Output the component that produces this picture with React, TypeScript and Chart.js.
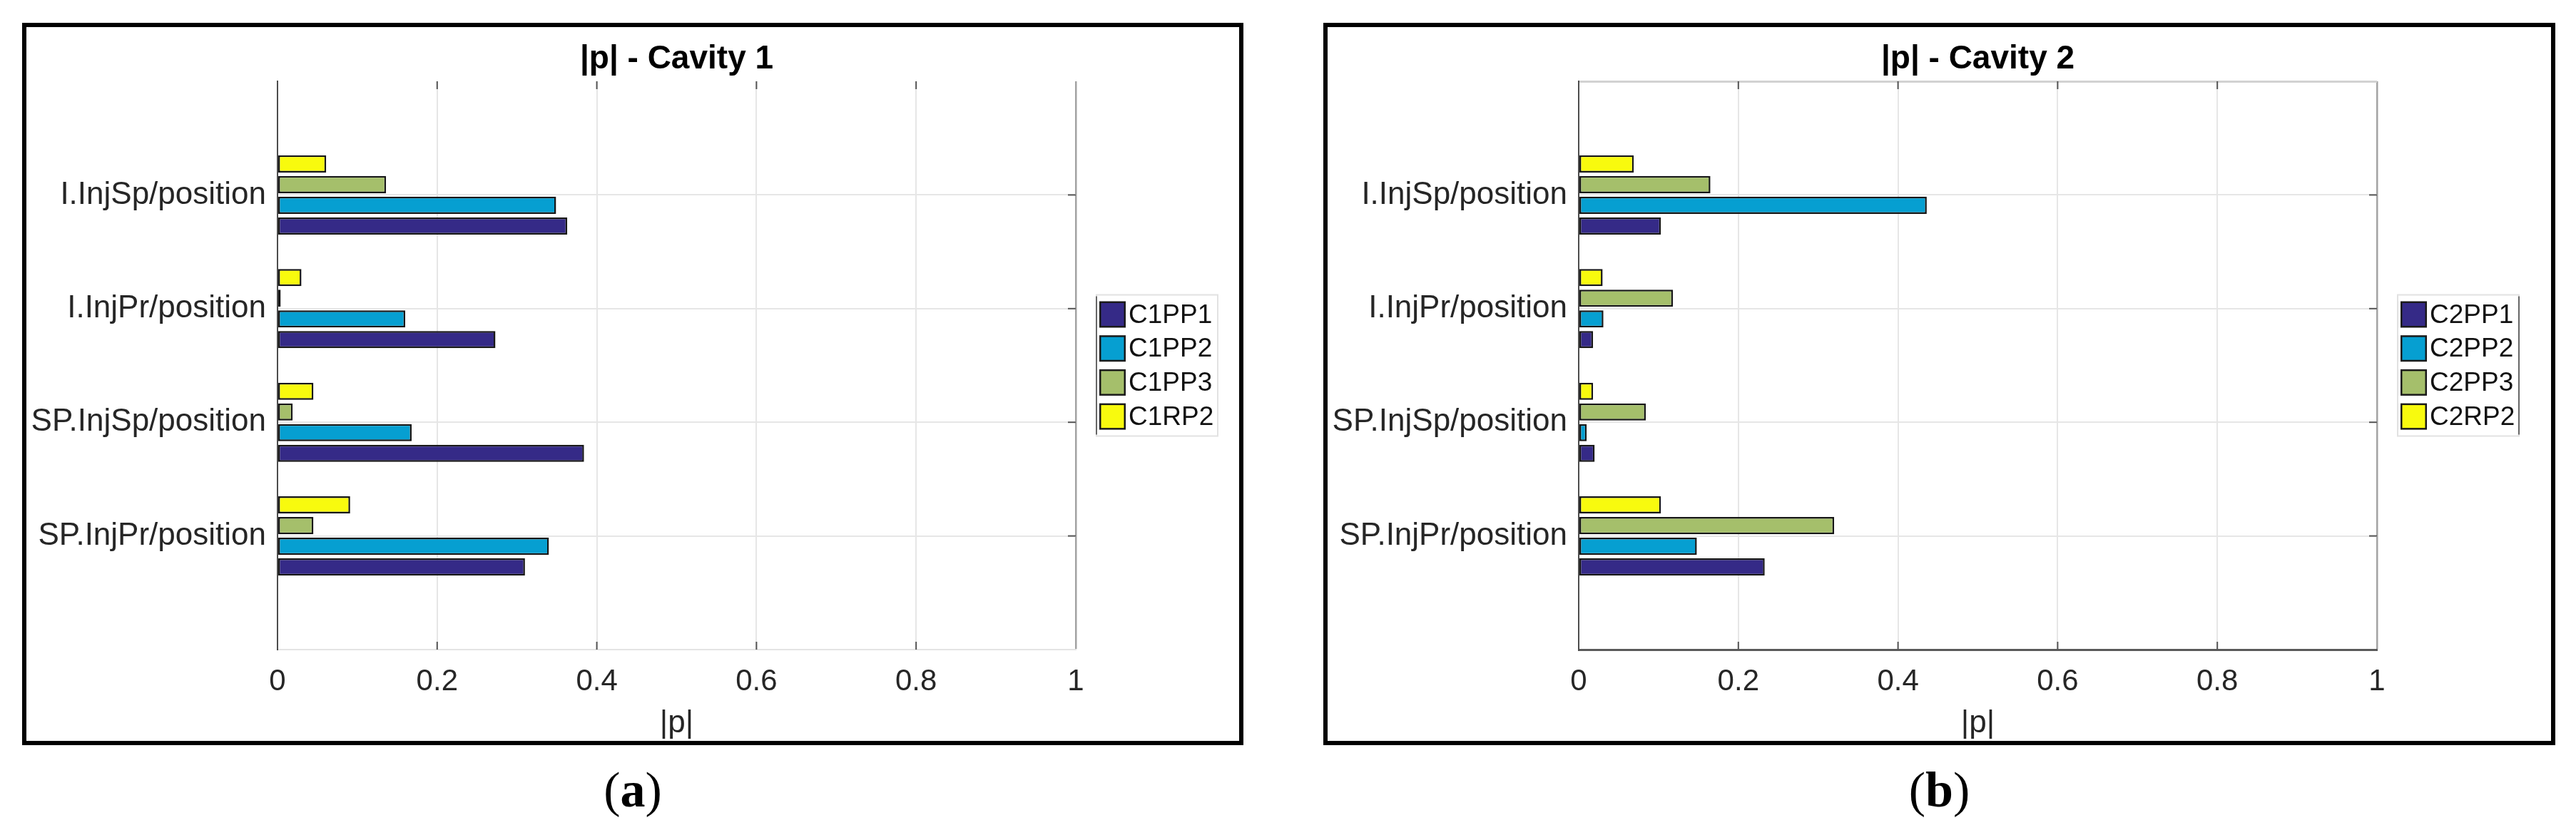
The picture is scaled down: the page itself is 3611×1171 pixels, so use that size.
import React, { useEffect, useRef } from 'react';
import { Chart, registerables } from 'chart.js';

Chart.register(...registerables);

// ---------- data ----------
const categories = ['I.InjSp/position', 'I.InjPr/position', 'SP.InjSp/position', 'SP.InjPr/position'];
const xTickValues = [0, 0.2, 0.4, 0.6, 0.8, 1];
const xTickLabels = ['0', '0.2', '0.4', '0.6', '0.8', '1'];

const cavity1Names = ['C1PP1', 'C1PP2', 'C1PP3', 'C1RP2'];
const c1PP1 = [0.363, 0.273, 0.384, 0.31];
const c1PP2 = [0.349, 0.16, 0.168, 0.34];
const c1PP3 = [0.136, 0.004, 0.019, 0.045];
const c1RP2 = [0.061, 0.03, 0.045, 0.091];

const cavity2Names = ['C2PP1', 'C2PP2', 'C2PP3', 'C2RP2'];
const c2PP1 = [0.103, 0.018, 0.02, 0.233];
const c2PP2 = [0.436, 0.031, 0.01, 0.148];
const c2PP3 = [0.165, 0.118, 0.084, 0.32];
const c2RP2 = [0.069, 0.03, 0.018, 0.103];

const seriesColors = ['#352a87', '#069fd1', '#a5bf6b', '#f8fa0e'];

// ---------- styling ----------
const SANS = '"Liberation Sans", Arial, Helvetica, sans-serif';
const SERIF = '"Liberation Serif", "Times New Roman", serif';
const TEXT = '#262626';

Chart.defaults.font.family = SANS;

type PanelSpec = {
  title: string;
  caption: string;
  names: string[];
  series: number[][];
  boxLeft: number;
  boxTop: number;
  boxW: number;
  boxH: number;
  padRight: number;
  topEdgeColor: string;
  topEdgeWidth: number;
  bottomEdgeColor: string;
  bottomEdgeWidth: number;
  legendDarkSide: 'left' | 'right';
};

const BORDER = 6;

const panels: PanelSpec[] = [
  {
    title: '|p| - Cavity 1',
    caption: 'a',
    names: cavity1Names,
    series: [c1PP1, c1PP2, c1PP3, c1RP2],
    boxLeft: 31,
    boxTop: 32,
    boxW: 1712,
    boxH: 1013,
    padRight: 229,
    topEdgeColor: 'rgba(0,0,0,0)',
    topEdgeWidth: 1,
    bottomEdgeColor: '#e4e4e4',
    bottomEdgeWidth: 2,
    legendDarkSide: 'left',
  },
  {
    title: '|p| - Cavity 2',
    caption: 'b',
    names: cavity2Names,
    series: [c2PP1, c2PP2, c2PP3, c2RP2],
    boxLeft: 1855,
    boxTop: 32,
    boxW: 1727,
    boxH: 1013,
    padRight: 244,
    topEdgeColor: '#d2d2d2',
    topEdgeWidth: 3,
    bottomEdgeColor: '#5a5a5a',
    bottomEdgeWidth: 3,
    legendDarkSide: 'right',
  },
];

function decorPlugin(spec: PanelSpec) {
  return {
    id: 'decor' + spec.caption,
    afterDatasetsDraw(chart: any) {
      const { ctx, chartArea } = chart;
      const xs = chart.scales.x;
      const ys = chart.scales.y;
      ctx.save();
      // inward tick marks
      ctx.strokeStyle = '#555';
      ctx.lineWidth = 2;
      xTickValues.slice(1, -1).forEach((v) => {
        const px = xs.getPixelForValue(v);
        ctx.beginPath();
        ctx.moveTo(px, chartArea.bottom);
        ctx.lineTo(px, chartArea.bottom - 11);
        ctx.moveTo(px, chartArea.top);
        ctx.lineTo(px, chartArea.top + 11);
        ctx.stroke();
      });
      categories.forEach((_, i) => {
        const py = ys.getPixelForValue(i + 1);
        ctx.beginPath();
        ctx.moveTo(chartArea.right, py);
        ctx.lineTo(chartArea.right - 11, py);
        ctx.stroke();
      });
      ctx.restore();
    },
    afterDraw(chart: any) {
      const { ctx, chartArea } = chart;
      ctx.save();
      // title
      ctx.fillStyle = '#000';
      ctx.font = `bold 46px ${SANS}`;
      ctx.textAlign = 'center';
      ctx.textBaseline = 'alphabetic';
      ctx.fillText(spec.title, (chartArea.left + chartArea.right) / 2, 58);

      // legend
      const lw = 170;
      const lh = 198;
      const lx = chartArea.right + 29;
      const ly = (chartArea.top + chartArea.bottom) / 2 - lh / 2;
      ctx.fillStyle = '#fff';
      ctx.fillRect(lx, ly, lw, lh);
      ctx.strokeStyle = '#e2e2e2';
      ctx.lineWidth = 2;
      ctx.strokeRect(lx, ly, lw, lh);
      ctx.strokeStyle = '#666';
      ctx.lineWidth = 2;
      ctx.beginPath();
      const ex = spec.legendDarkSide === 'left' ? lx : lx + lw;
      ctx.moveTo(ex, ly + 2);
      ctx.lineTo(ex, ly + lh - 2);
      ctx.stroke();

      const items = [...chart.data.datasets].reverse();
      items.forEach((ds: any, i: number) => {
        const sy = ly + 9 + i * 47.7;
        ctx.fillStyle = '#1a1a1a';
        ctx.fillRect(lx + 4, sy, 37, 37);
        ctx.fillStyle = ds.backgroundColor;
        ctx.fillRect(lx + 6.5, sy + 2.5, 32, 32);
        ctx.fillStyle = '#111';
        ctx.font = `37px ${SANS}`;
        ctx.textAlign = 'left';
        ctx.textBaseline = 'middle';
        ctx.fillText(ds.label, lx + 45, sy + 20);
      });
      ctx.restore();
    },
  };
}

function buildConfig(spec: PanelSpec): any {
  const labels = ['', ...categories, ''];
  const pad = (v: number[]) => [null, ...v, null];
  // draw order top-to-bottom within a group: RP2, PP3, PP2, PP1
  const order = [3, 2, 1, 0];
  const datasets = order.map((k) => ({
    label: spec.names[k],
    data: pad(spec.series[k]),
    backgroundColor: seriesColors[k],
    borderColor: '#161616',
    borderWidth: 2.5,
    borderSkipped: false,
    categoryPercentage: 0.728,
    barPercentage: 0.83,
  }));
  const nY = labels.length - 1;
  return {
    type: 'bar',
    data: { labels, datasets },
    plugins: [decorPlugin(spec)],
    options: {
      indexAxis: 'y',
      responsive: false,
      animation: false,
      devicePixelRatio: 1,
      layout: { padding: { left: 0, top: 76, right: spec.padRight, bottom: 0 } },
      plugins: {
        legend: { display: false },
        title: { display: false },
        tooltip: { enabled: false },
      },
      scales: {
        x: {
          type: 'linear',
          min: 0,
          max: 1,
          afterBuildTicks: (s: any) => {
            s.ticks = xTickValues.map((v) => ({ value: v }));
          },
          ticks: {
            padding: 20,
            color: TEXT,
            font: { size: 42, family: SANS },
            maxRotation: 0,
            autoSkip: false,
            callback: (_v: any, i: number) => xTickLabels[i],
          },
          grid: {
            drawTicks: false,
            color: (c: any) =>
              c.index === 0 ? 'rgba(0,0,0,0)' : c.index === xTickValues.length - 1 ? '#a3a3a3' : '#e6e6e6',
            lineWidth: (c: any) => (c.index === xTickValues.length - 1 ? 2.5 : 2),
          },
          border: { display: true, color: spec.bottomEdgeColor, width: spec.bottomEdgeWidth },
          title: {
            display: true,
            text: '|p|',
            color: TEXT,
            font: { size: 44, family: SANS, lineHeight: 1 },
            padding: { top: 0, bottom: 2 },
          },
          afterFit: (s: any) => {
            s.height = 128;
          },
        },
        y: {
          type: 'category',
          offset: false,
          ticks: {
            padding: 16,
            color: TEXT,
            font: { size: 44, family: SANS },
            autoSkip: false,
          },
          grid: {
            offset: false,
            drawTicks: false,
            color: (c: any) =>
              c.index === 0 ? spec.topEdgeColor : c.index === nY ? 'rgba(0,0,0,0)' : '#e6e6e6',
            lineWidth: (c: any) => (c.index === 0 ? spec.topEdgeWidth : 2),
          },
          border: { display: true, color: '#4d4d4d', width: 2 },
          afterFit: (s: any) => {
            s.width = 352;
          },
        },
      },
    },
  };
}

function Panel({ spec }: { spec: PanelSpec }) {
  const ref = useRef<HTMLCanvasElement>(null);
  const cw = spec.boxW - 2 * BORDER;
  const ch = spec.boxH - 2 * BORDER;
  useEffect(() => {
    const chart = new Chart(ref.current as HTMLCanvasElement, buildConfig(spec));
    return () => chart.destroy();
  }, [spec]);
  const center = spec.boxLeft + spec.boxW / 2;
  return (
    <>
      <div
        style={{
          position: 'absolute',
          left: spec.boxLeft,
          top: spec.boxTop,
          width: spec.boxW,
          height: spec.boxH,
          border: `${BORDER}px solid #000`,
          boxSizing: 'border-box',
          background: '#fff',
        }}
      >
        <canvas ref={ref} width={cw} height={ch} style={{ display: 'block', width: cw, height: ch }} />
      </div>
      <div
        style={{
          position: 'absolute',
          left: center - 100,
          top: 1073,
          width: 200,
          textAlign: 'center',
          fontFamily: SERIF,
          fontSize: 70,
          lineHeight: '70px',
          color: '#000',
        }}
      >
        (<b>{spec.caption}</b>)
      </div>
    </>
  );
}

export default function App() {
  return (
    <div style={{ position: 'absolute', left: 0, top: 0, width: 3611, height: 1171, background: '#fff', overflow: 'hidden' }}>
      {panels.map((p) => (
        <Panel key={p.caption} spec={p} />
      ))}
    </div>
  );
}
